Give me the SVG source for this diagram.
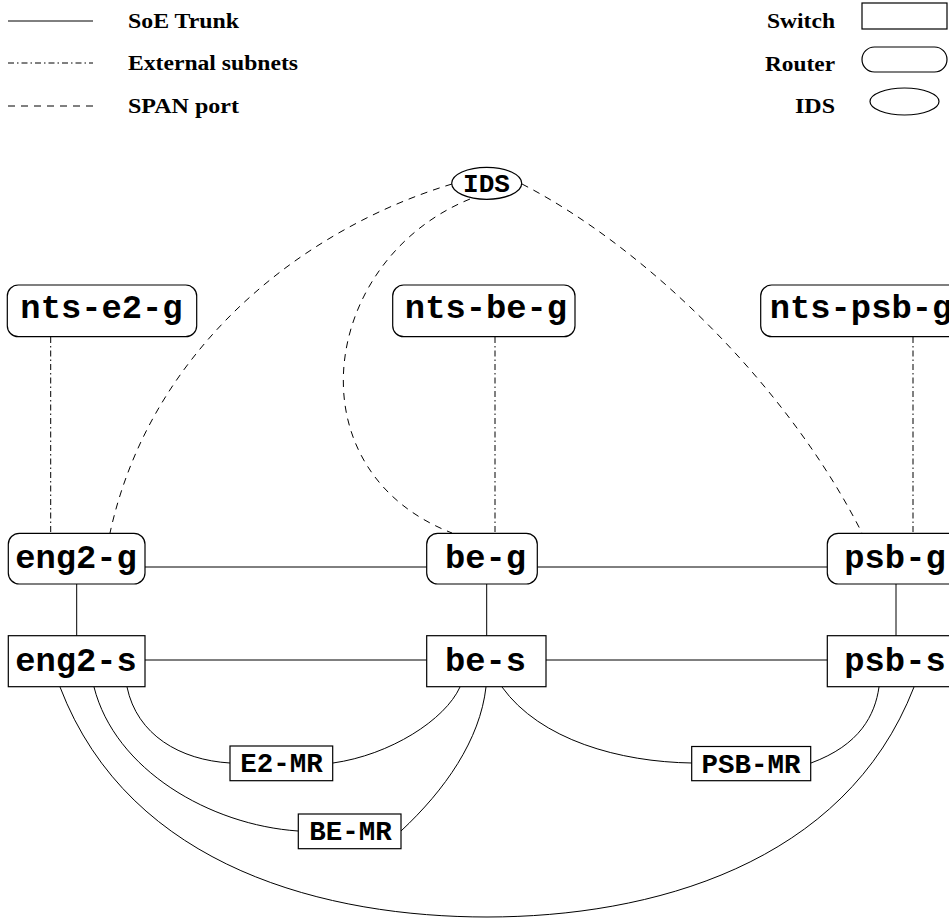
<svg xmlns="http://www.w3.org/2000/svg" width="949" height="920" viewBox="0 0 949 920">
<style>
.bg{fill:#fff}
.box{fill:#fff;stroke:#000;stroke-width:1.2}
.trunk{fill:none;stroke:#000;stroke-width:1}
.ext{fill:none;stroke:#000;stroke-width:1;stroke-dasharray:6 3 1.5 3}
.span{fill:none;stroke:#000;stroke-width:1;stroke-dasharray:7 6}
.leg{font-family:"Liberation Serif","Times New Roman",serif;font-weight:bold;font-size:20px;fill:#000}
.mono{font-family:"Liberation Mono","Courier New",monospace;font-weight:bold;font-size:33.8px;fill:#000;text-anchor:middle}
.small{font-size:27.5px}
</style>
<rect class="bg" x="0" y="0" width="949" height="920"/>

<g id="legend">
  <line class="trunk" x1="8" y1="21" x2="93" y2="21"/>
  <line class="ext" x1="8" y1="63" x2="93" y2="63"/>
  <line class="span" x1="8" y1="106" x2="93" y2="106"/>
  <text class="leg" x="128" y="28" textLength="111" lengthAdjust="spacingAndGlyphs">SoE Trunk</text>
  <text class="leg" x="128" y="70" textLength="170" lengthAdjust="spacingAndGlyphs">External subnets</text>
  <text class="leg" x="128" y="113" textLength="111" lengthAdjust="spacingAndGlyphs">SPAN port</text>
  <text class="leg" x="767" y="28" textLength="68" lengthAdjust="spacingAndGlyphs">Switch</text>
  <text class="leg" x="765" y="71" textLength="70" lengthAdjust="spacingAndGlyphs">Router</text>
  <text class="leg" x="795" y="113" textLength="40" lengthAdjust="spacingAndGlyphs">IDS</text>
  <rect class="box" x="862" y="3" width="85" height="26"/>
  <rect class="box" x="862" y="47" width="85" height="25" rx="12.5" ry="12.5"/>
  <ellipse class="box" cx="904.5" cy="101.5" rx="34.5" ry="13.5"/>
</g>

<g id="connectors">
  <!-- SoE trunk -->
  <line class="trunk" x1="145" y1="567" x2="427" y2="567"/>
  <line class="trunk" x1="537" y1="567" x2="827" y2="567"/>
  <line class="trunk" x1="145" y1="660" x2="427" y2="660"/>
  <line class="trunk" x1="546" y1="660" x2="827" y2="660"/>
  <line class="trunk" x1="76.7" y1="584" x2="76.7" y2="636"/>
  <line class="trunk" x1="486.7" y1="584" x2="486.7" y2="636"/>
  <line class="trunk" x1="896" y1="584" x2="896" y2="636"/>
  <path class="trunk" d="M127,687 C137,735 180,760 230,763"/>
  <path class="trunk" d="M333,763 C390,755 445,720 460,687"/>
  <path class="trunk" d="M94,687 C115,770 210,825 298,831"/>
  <path class="trunk" d="M401,831 C445,790 480,740 486,687"/>
  <path class="trunk" d="M502,687 C540,740 620,762 692,763"/>
  <path class="trunk" d="M811,763 C860,745 875,715 879,687"/>
  <path class="trunk" d="M60,687 C130,870 330,917 487,917 C650,917 845,865 914,687"/>
  <!-- External subnets -->
  <line class="ext" x1="50.7" y1="337" x2="50.7" y2="533"/>
  <line class="ext" x1="495" y1="337" x2="495" y2="533"/>
  <line class="ext" x1="913" y1="337" x2="913" y2="533"/>
  <!-- SPAN port -->
  <path class="span" d="M452,184 C300,230 150,350 110,533"/>
  <path class="span" d="M470,199 C320,260 290,470 452,533"/>
  <path class="span" d="M522,184 C650,250 790,390 862,533"/>
</g>

<g id="ids">
  <ellipse class="box" cx="486.7" cy="183.3" rx="35" ry="16"/>
  <text class="mono" x="486.5" y="192" style="font-size:26px">IDS</text>
</g>
<g id="nts-e2-g">
  <rect class="box" x="7.3" y="285" width="189.4" height="51.7" rx="11"/>
  <text class="mono" x="101.5" y="318.3">nts-e2-g</text>
</g>
<g id="nts-be-g">
  <rect class="box" x="392.7" y="285" width="182.3" height="51.7" rx="11"/>
  <text class="mono" x="486" y="318.3">nts-be-g</text>
</g>
<g id="nts-psb-g">
  <rect class="box" x="760.7" y="285" width="205" height="51.7" rx="11"/>
  <text class="mono" x="861" y="318.3">nts-psb-g</text>
</g>
<g id="eng2-g">
  <rect class="box" x="8.3" y="533.3" width="136.7" height="50.7" rx="11"/>
  <text class="mono" x="76" y="568.3">eng2-g</text>
</g>
<g id="be-g">
  <rect class="box" x="426.7" y="533.3" width="110.6" height="50.7" rx="11"/>
  <text class="mono" x="485.5" y="568.3">be-g</text>
</g>
<g id="psb-g">
  <rect class="box" x="827.3" y="533.3" width="136" height="50.7" rx="11"/>
  <text class="mono" x="895" y="568.3">psb-g</text>
</g>
<g id="eng2-s">
  <rect class="box" x="8.3" y="635.7" width="136.7" height="51"/>
  <text class="mono" x="76" y="670.5">eng2-s</text>
</g>
<g id="be-s">
  <rect class="box" x="426.7" y="635.7" width="119.3" height="51"/>
  <text class="mono" x="485.5" y="670.5">be-s</text>
</g>
<g id="psb-s">
  <rect class="box" x="827.3" y="635.7" width="136" height="51"/>
  <text class="mono" x="895" y="670.5">psb-s</text>
</g>
<g id="E2-MR">
  <rect class="box" x="230" y="746" width="102.7" height="34.7"/>
  <text class="mono small" x="281.5" y="772">E2-MR</text>
</g>
<g id="BE-MR">
  <rect class="box" x="298.3" y="814" width="102.7" height="34.7"/>
  <text class="mono small" x="350.5" y="840">BE-MR</text>
</g>
<g id="PSB-MR">
  <rect class="box" x="691.7" y="746.5" width="119" height="34.2"/>
  <text class="mono small" x="751" y="772.5">PSB-MR</text>
</g>
</svg>
